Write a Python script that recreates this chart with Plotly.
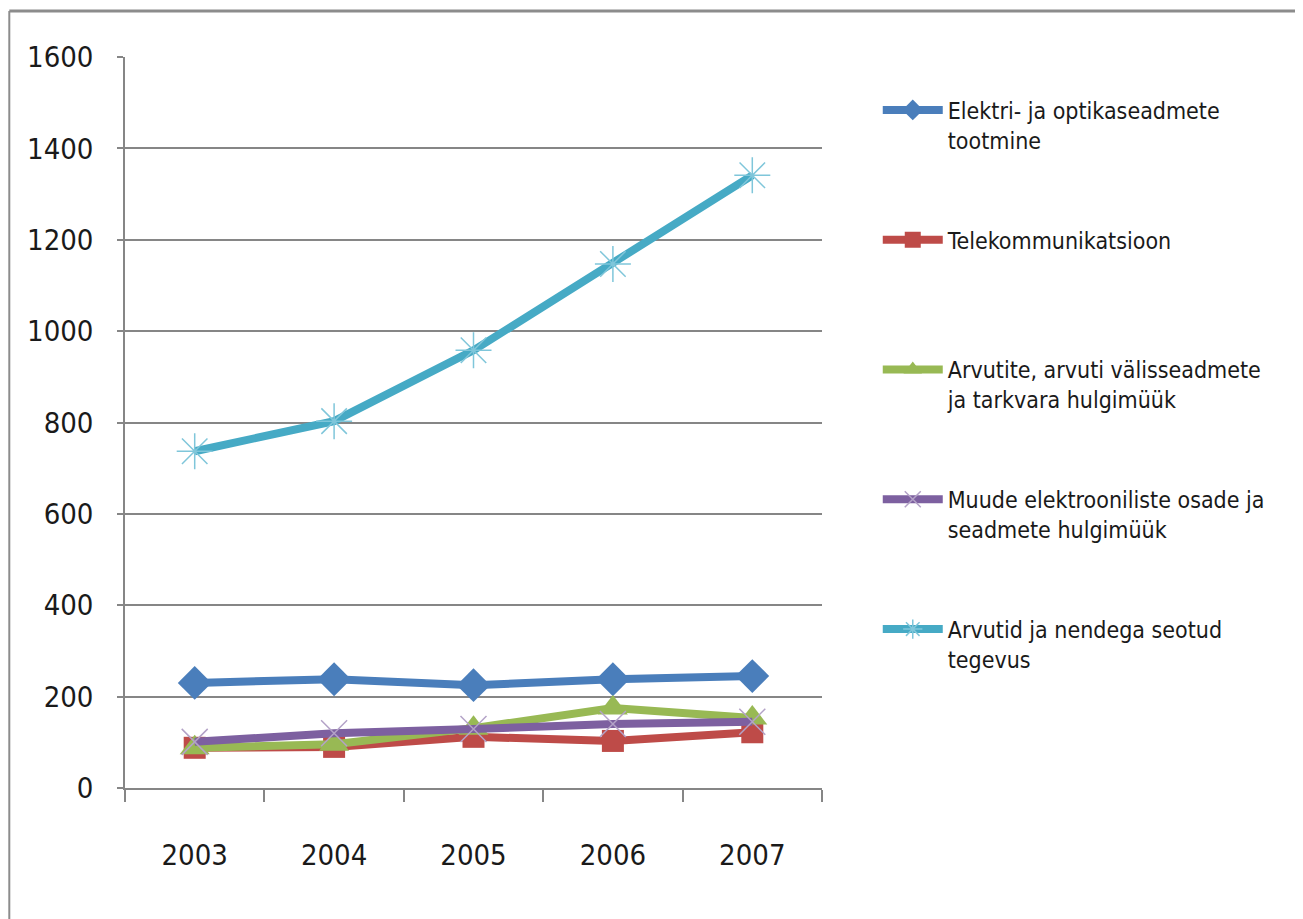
import plotly.graph_objects as go

years = ["2003", "2004", "2005", "2006", "2007"]
names = [
    "Elektri- ja optikaseadmete<br>tootmine",
    "Telekommunikatsioon<br> ",
    "Arvutite, arvuti välisseadmete<br>ja tarkvara hulgimüük",
    "Muude elektrooniliste osade ja<br>seadmete hulgimüük",
    "Arvutid ja nendega seotud<br>tegevus",
]
elektri = [230, 238, 225, 238, 245]
telekom = [88, 90, 112, 103, 122]
arvutite = [88, 96, 131, 175, 153]
muude = [101, 120, 129, 140, 145]
arvutid = [737, 803, 958, 1147, 1341]
y_ticks = [0, 200, 400, 600, 800, 1000, 1200, 1400, 1600]

series = [elektri, telekom, arvutite, muude, arvutid]
colors = ["#4A7EBB", "#BE4B48", "#98B954", "#7D60A0", "#46AAC5"]
marker_colors = ["#4A7EBB", "#BE4B48", "#98B954", "#B3A2C7", "#7FC6DA"]
symbols = ["diamond", "square", "triangle-up", "x-thin", "asterisk"]
sizes = [26, 22, 26, 26, 30]

FONT = "DejaVu Sans Condensed, Liberation Sans Narrow, sans-serif"

fig = go.Figure()
for i, (name, vals) in enumerate(zip(names, series)):
    thin = symbols[i] in ("x-thin", "asterisk")
    fig.add_trace(go.Scatter(
        x=years, y=vals, name=name, mode="lines+markers",
        legendgroup=f"g{i}",
        line=dict(color=colors[i], width=8),
        marker=dict(symbol=symbols[i], size=sizes[i],
                    color=marker_colors[i] if thin else colors[i],
                    line=dict(color=marker_colors[i], width=1.5 if thin else 0)),
    ))

fig.update_layout(
    width=1295, height=911,
    margin=dict(l=117, r=481, t=49, b=131),
    paper_bgcolor="white", plot_bgcolor="white",
    font=dict(family=FONT, size=29, color="#1a1a1a"),
    showlegend=True,
    legend=dict(
        x=1.08, y=0.957, xanchor="left", yanchor="top",
        font=dict(family=FONT, size=23, color="#1a1a1a"),
        valign="top", tracegroupgap=67, itemwidth=60,
        bgcolor="rgba(0,0,0,0)",
    ),
    shapes=[
        dict(type="line", xref="paper", yref="paper",
             x0=-0.166, x1=1.70, y0=1.063, y1=1.063,
             line=dict(color="#8c8c8c", width=3)),
        dict(type="line", xref="paper", yref="paper",
             x0=-0.166, x1=-0.166, y0=1.063, y1=-0.2,
             line=dict(color="#8c8c8c", width=2)),
    ],
)

fig.update_xaxes(
    type="category", tickson="boundaries",
    ticks="outside", ticklen=12, tickcolor="#868686", tickwidth=1.5,
    showline=True, linecolor="#868686", linewidth=2,
    showgrid=False, ticklabelstandoff=40,
    tickfont=dict(family=FONT, size=29),
    range=[-0.5, 4.5],
)
fig.update_yaxes(
    range=[0, 1600], tickvals=y_ticks,
    ticks="outside", ticklen=6, tickcolor="#868686", tickwidth=1.5,
    showline=True, linecolor="#868686", linewidth=1.5,
    showgrid=True, gridcolor="#868686", gridwidth=2,
    zeroline=False, ticklabelstandoff=18,
    tickfont=dict(family=FONT, size=29),
)

fig.write_html("out.html")
